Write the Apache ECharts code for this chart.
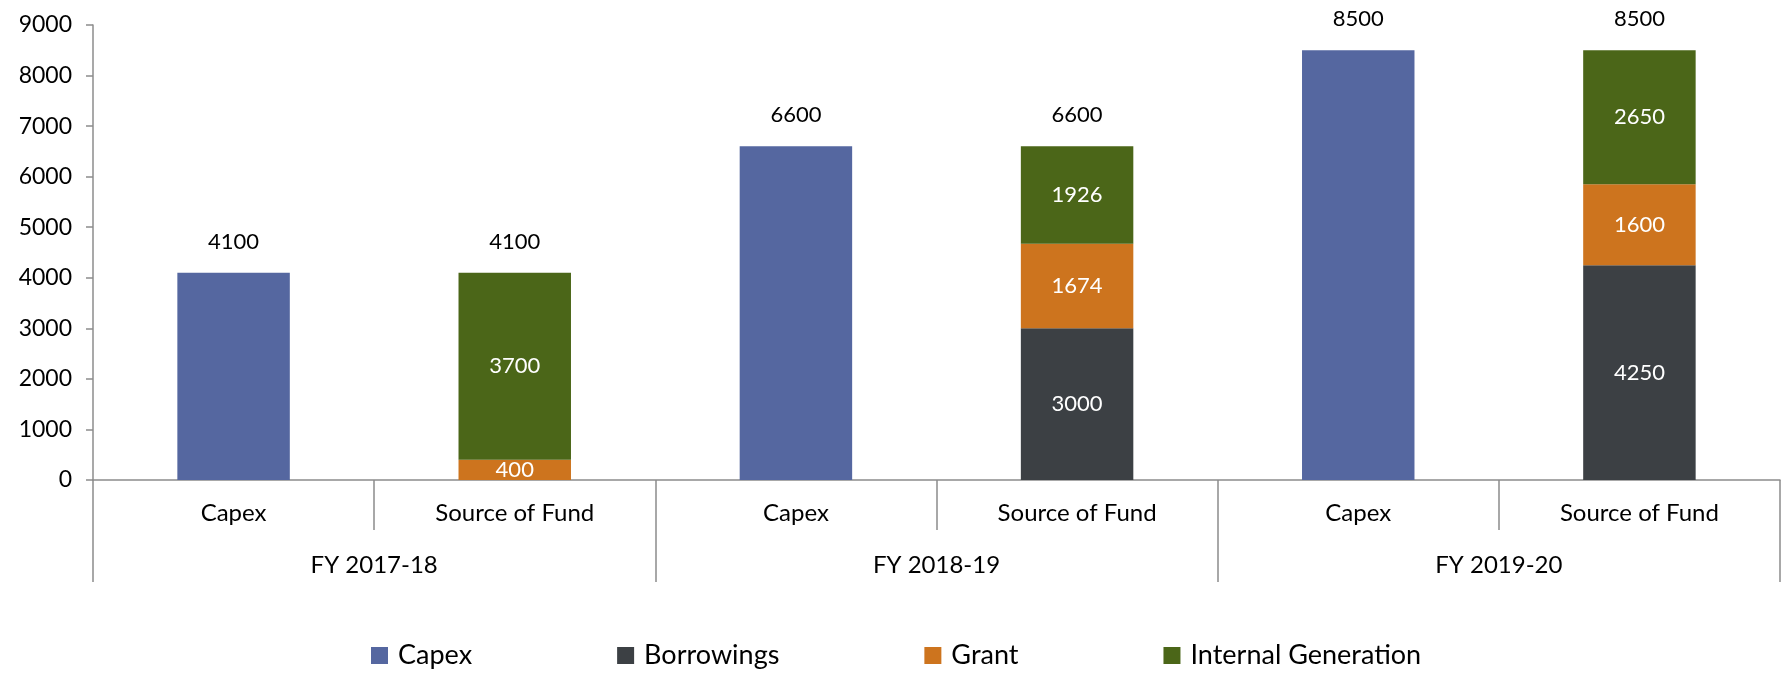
<!DOCTYPE html>
<html>
<head>
<meta charset="utf-8">
<script src="https://cdn.jsdelivr.net/npm/echarts@6/dist/echarts.min.js"></script>
<style>
  html, body { margin: 0; padding: 0; background: #fff; }
  #chart { width: 1783px; height: 673px; }
</style>
</head>
<body>
<div id="chart"></div>
<script>
const categories = ['Capex', 'Source of Fund', 'Capex', 'Source of Fund', 'Capex', 'Source of Fund']
const years = ['FY 2017-18', 'FY 2018-19', 'FY 2019-20']

const capex = [4100, '-', 6600, '-', 8500, '-']
const borrowings = ['-', 0, '-', 3000, '-', 4250]
const grant = ['-', 400, '-', 1674, '-', 1600]
const internalGeneration = ['-', 3700, '-', 1926, '-', 2650]
const totals = [4100, 4100, 6600, 6600, 8500, 8500]

const yTicks = { min: 0, max: 9000, interval: 1000 }

const font = 'Lato, "Open Sans", sans-serif'
const axisGrey = '#8c8c8c'

const chart = echarts.init(document.getElementById('chart'))

const insideLabel = {
  show: true,
  position: 'inside',
  color: '#fff',
  fontSize: 22,
  fontFamily: font,
  formatter: p => (p.value === 0 || p.value === '-') ? '' : p.value
}

const barSeries = (name, data, color, label) => ({
  name,
  type: 'bar',
  stack: 'total',
  data,
  barWidth: '40%',
  itemStyle: { color },
  label: label || { show: false }
})

chart.setOption({
  animation: false,
  textStyle: { fontFamily: font },
  grid: { left: 93, right: 3, top: 25, bottom: 193 },
  legend: {
    data: ['Capex', 'Borrowings', 'Grant', 'Internal Generation'],
    left: 366,
    top: 637,
    itemWidth: 17,
    itemHeight: 17,
    itemGap: 145,
    icon: 'rect',
    textStyle: { fontSize: 27, color: '#000', fontFamily: font, padding: [0, 0, 0, 5] }
  },
  xAxis: [
    {
      type: 'category',
      data: categories,
      axisLine: { show: true, lineStyle: { color: axisGrey, width: 1.5 } },
      axisTick: { show: true, interval: 0, length: 50, lineStyle: { color: axisGrey, width: 1.5 } },
      axisLabel: { interval: 0, margin: 21, fontSize: 24, color: '#000', fontFamily: font }
    },
    {
      type: 'category',
      data: years,
      position: 'bottom',
      axisLine: { show: false },
      axisTick: { show: true, interval: 0, length: 102, lineStyle: { color: axisGrey, width: 1.5 } },
      axisLabel: { interval: 0, margin: 73, fontSize: 24, color: '#000', fontFamily: font }
    }
  ],
  yAxis: {
    type: 'value',
    min: yTicks.min,
    max: yTicks.max,
    interval: yTicks.interval,
    splitLine: { show: false },
    axisLine: { show: true, lineStyle: { color: axisGrey, width: 1.5 } },
    axisTick: { show: true, length: 7, lineStyle: { color: axisGrey, width: 1.5 } },
    axisLabel: { margin: 21, fontSize: 23, color: '#000', fontFamily: font, formatter: v => String(v) }
  },
  series: [
    barSeries('Capex', capex, '#5567a0'),
    barSeries('Borrowings', borrowings, '#3c4044', insideLabel),
    barSeries('Grant', grant, '#cd741e', insideLabel),
    barSeries('Internal Generation', internalGeneration, '#4b6618', insideLabel),
    {
      name: 'Total',
      type: 'bar',
      stack: 'total',
      data: totals.map(() => 0),
      barWidth: '40%',
      itemStyle: { color: 'transparent' },
      label: {
        show: true,
        position: 'top',
        distance: 20,
        color: '#000',
        fontSize: 22,
        fontFamily: font,
        formatter: p => totals[p.dataIndex]
      }
    }
  ]
})
</script>
</body>
</html>
